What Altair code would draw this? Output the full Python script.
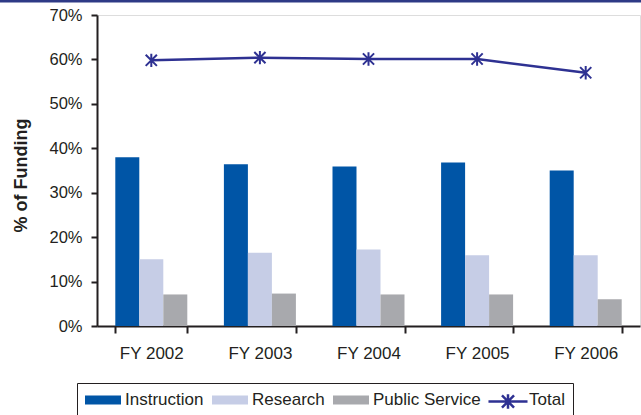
import altair as alt
import pandas as pd

# Share of funding by fiscal year
years = ["FY 2002", "FY 2003", "FY 2004", "FY 2005", "FY 2006"]
categories = ["Instruction", "Research", "Public Service"]
instruction = [0.380, 0.364, 0.359, 0.368, 0.350]
research = [0.150, 0.165, 0.172, 0.159, 0.159]
public_service = [0.071, 0.073, 0.071, 0.071, 0.060]
total = [0.598, 0.604, 0.601, 0.601, 0.570]

cat_colors = ["#0055A6", "#C6CDE6", "#A8A9AD"]
total_color = "#2E3192"
ink = "#231F20"
font = "Liberation Sans"

bars_df = pd.DataFrame(
    [
        {"Year": y, "Category": c, "Value": v}
        for c, vals in zip(categories, [instruction, research, public_service])
        for y, v in zip(years, vals)
    ]
)
total_df = pd.DataFrame({"Year": years, "Value": total, "Series": ["Total"] * len(years)})

x_enc = alt.X(
    "Year:N",
    sort=years,
    scale=alt.Scale(paddingInner=0.337, paddingOuter=0.1685),
    axis=alt.Axis(
        title=None,
        tickBand="extent",
        labelAngle=0,
        labelFontSize=17,
        labelPadding=12,
        labelColor=ink,
        labelFont=font,
        tickSize=7,
        tickWidth=2,
        tickColor=ink,
        domainColor=ink,
        domainWidth=2,
    ),
)

y_enc = alt.Y(
    "Value:Q",
    scale=alt.Scale(domain=[0, 0.7], nice=False),
    axis=alt.Axis(
        title="% of Funding",
        values=[0, 0.1, 0.2, 0.3, 0.4, 0.5, 0.6, 0.7],
        format=".0%",
        grid=False,
        labelFontSize=16.5,
        labelPadding=9,
        labelColor=ink,
        labelFont=font,
        tickSize=6,
        tickWidth=2,
        tickColor=ink,
        domainColor=ink,
        domainWidth=2,
        titleFont=font,
        titleFontSize=18,
        titleFontWeight="bold",
        titleColor=ink,
        titleX=-67,
        titleY=160,
        titleAngle=270,
        titleAlign="center",
        titleBaseline="bottom",
    ),
)

# Legend swatches: nominal symbol size 18 px, paths drawn wider than that
half = 9
swatch = "M-2,-0.5H2V0.5H-2Z"  # 36 x 9 px
total_swatch = "M-2.17,0H2.17M-0.67,-0.67L0.67,0.67M-0.67,0.67L0.67,-0.67M0,-0.8V0.8"

# The framed legend lists all four series; the "Total" entry has no swatch of
# its own and gets the line-with-star symbol from the stroke legend laid on top.
legend_names = categories + ["Total"]
legend_fills = cat_colors + ["transparent"]

bars = (
    alt.Chart(bars_df)
    .mark_bar()
    .encode(
        x=x_enc,
        xOffset=alt.XOffset("Category:N", sort=categories),
        y=y_enc,
        fill=alt.Fill(
            "Category:N",
            sort=legend_names,
            scale=alt.Scale(domain=legend_names, range=legend_fills),
            legend=alt.Legend(
                orient="none",
                legendX=-20,
                legendY=368,
                direction="horizontal",
                title=None,
                symbolType=swatch,
                symbolSize=(2 * half) ** 2,
                symbolOffset=half,
                symbolStrokeWidth=0,
                labelFontSize=17,
                labelFont=font,
                labelColor=ink,
                labelOffset=13,
                labelLimit=400,
                columnPadding=8,
                padding=8,
                strokeColor=ink,
            ),
        ),
    )
)

star = "M-0.8,-0.8L0.8,0.8M-0.8,0.8L0.8,-0.8M0,-0.95V0.95"

line = (
    alt.Chart(total_df)
    .mark_line(strokeWidth=2.5)
    .encode(
        x=alt.X("Year:N", sort=years),
        y=alt.Y("Value:Q"),
        stroke=alt.Stroke(
            "Series:N",
            scale=alt.Scale(domain=["Total"], range=[total_color]),
            legend=alt.Legend(
                orient="none",
                legendX=390,
                legendY=376,
                title=None,
                symbolType=total_swatch,
                symbolSize=(2 * half) ** 2,
                symbolOffset=10.5,
                symbolStrokeWidth=2.5,
                labelFontSize=17,
                labelExpr="''",
                padding=0,
            ),
        ),
    )
)

points = (
    alt.Chart(total_df)
    .mark_point(shape=star, filled=False, size=196, strokeWidth=2, opacity=1, color=total_color)
    .encode(x=alt.X("Year:N", sort=years), y=alt.Y("Value:Q"))
)

# Navy page rule along the top edge
top_rule = (
    alt.Chart(pd.DataFrame({"k": [0]}))
    .mark_rule(color="#2E3A86", strokeWidth=3)
    .encode(x=alt.value(-97), x2=alt.value(544), y=alt.value(-14))
)

chart = (
    alt.layer(bars, line, points, top_rule)
    .properties(
        width=543,
        height=311,
        autosize=alt.AutoSizeParams(type="none"),
        padding={"left": 97, "top": 15, "right": 1, "bottom": 89},
        background="white",
    )
    .configure_view(stroke="#A6A6A6", strokeWidth=2)
    .configure(font=font)
)

chart.save("out.html", embed_options={"renderer": "svg", "actions": False})
